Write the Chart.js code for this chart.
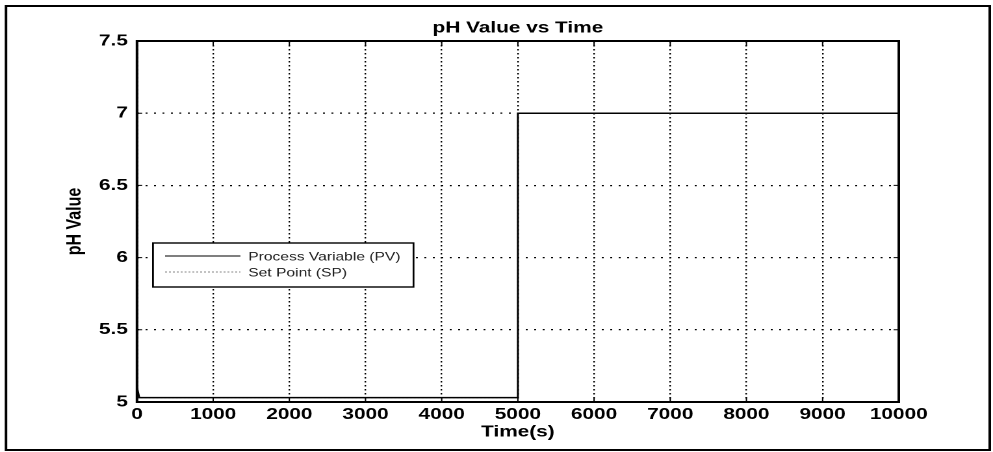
<!DOCTYPE html>
<html>
<head>
<meta charset="utf-8">
<title>pH Value vs Time</title>
<script src="https://cdn.jsdelivr.net/npm/chart.js@4"></script>
<style>
    html, body { margin: 0; padding: 0; background: #fff; }
    /* the plot is drawn narrow and stretched sideways to the full page width */
    #wrap {
        width: 764px;
        height: 452px;
        transform: scaleX(1.29974);
        transform-origin: 0 0;
    }
</style>
</head>
<body>
<div id="wrap">
    <canvas id="phChart" width="764" height="452"></canvas>
</div>
<script>
const chartTitle = 'pH Value vs Time';
const xTickLabels = ['0', '1000', '2000', '3000', '4000', '5000', '6000', '7000', '8000', '9000', '10000'];
const yTickLabels = ['5', '5.5', '6', '6.5', '7', '7.5'];

// Process Variable (PV)
const pvTime = [0, 30, 5000, 5000, 10000];
const pvValue = [5.1, 5.03, 5.03, 7, 7];

// Set Point (SP)
const spTime = [0, 5000, 5000, 10000];
const spValue = [5.03, 5.03, 7, 7];

const fontFamily = "'Liberation Sans', Arial, sans-serif";

function toPoints(xs, ys) {
    return xs.map(function(x, i) { return { x: x, y: ys[i] }; });
}

// box around the axes, inward tick marks, title, outer frame and legend
const framePlugin = {
    id: 'matlabFrame',
    afterDraw: function(chart) {
        const ctx = chart.ctx;
        const a = chart.chartArea;
        const xs = chart.scales.x;
        const ys = chart.scales.y;
        ctx.save();

        ctx.strokeStyle = '#000';
        ctx.lineWidth = 1;
        ctx.beginPath();
        xs.ticks.forEach(function(t) {
            const px = xs.getPixelForValue(t.value);
            ctx.moveTo(px, a.bottom); ctx.lineTo(px, a.bottom - 5);
            ctx.moveTo(px, a.top); ctx.lineTo(px, a.top + 5);
        });
        ys.ticks.forEach(function(t) {
            const py = ys.getPixelForValue(t.value);
            ctx.moveTo(a.left, py); ctx.lineTo(a.left + 4, py);
            ctx.moveTo(a.right, py); ctx.lineTo(a.right - 4, py);
        });
        ctx.stroke();

        ctx.lineWidth = 2;
        ctx.strokeRect(a.left, a.top, a.right - a.left, a.bottom - a.top);
        ctx.strokeRect(4.6, 6, 756.9, 444);

        ctx.fillStyle = '#000';
        ctx.font = 'bold 16px ' + fontFamily;
        ctx.textAlign = 'center';
        ctx.textBaseline = 'middle';
        ctx.fillText(chartTitle, (a.left + a.right) / 2, 28);

        // legend
        ctx.font = '12px ' + fontFamily;
        const sets = chart.data.datasets;
        const textX = 191;
        let maxW = 0;
        sets.forEach(function(ds) { maxW = Math.max(maxW, ctx.measureText(ds.label).width); });
        const boxL = 117.7, boxT = 243, boxB = 287;
        const boxR = textX + maxW + 10;
        ctx.fillStyle = '#fff';
        ctx.fillRect(boxL, boxT, boxR - boxL, boxB - boxT);
        ctx.lineWidth = 1.4;
        ctx.strokeStyle = '#000';
        ctx.strokeRect(boxL, boxT, boxR - boxL, boxB - boxT);
        sets.forEach(function(ds, i) {
            const y = 256 + i * 16;
            ctx.strokeStyle = ds.borderColor;
            ctx.lineWidth = 1;
            ctx.setLineDash(ds.borderDash || []);
            ctx.beginPath();
            ctx.moveTo(127, y);
            ctx.lineTo(185, y);
            ctx.stroke();
            ctx.setLineDash([]);
            ctx.fillStyle = '#222';
            ctx.textAlign = 'left';
            ctx.fillText(ds.label, textX, y + 1);
        });
        ctx.restore();
    }
};

const ctx = document.getElementById('phChart');

const phChart = new Chart(ctx, {
    type: 'line',
    data: {
        datasets: [{
            label: 'Process Variable (PV)',
            data: toPoints(pvTime, pvValue),
            borderColor: '#000',
            borderWidth: 1.5,
            pointRadius: 0,
            tension: 0
        }, {
            label: 'Set Point (SP)',
            data: toPoints(spTime, spValue),
            borderColor: '#888',
            borderWidth: 1,
            borderDash: [1.5, 1.5],
            pointRadius: 0,
            tension: 0
        }]
    },
    options: {
        responsive: false,
        animation: false,
        devicePixelRatio: 2,
        layout: {
            padding: { left: 0, right: 72.5, top: 41, bottom: 0 }
        },
        plugins: {
            legend: { display: false },
            tooltip: { enabled: false }
        },
        scales: {
            x: {
                type: 'linear',
                min: 0,
                max: 10000,
                afterFit: function(scale) { scale.height = 50; },
                ticks: {
                    stepSize: 1000,
                    color: '#000',
                    padding: 3,
                    maxRotation: 0,
                    font: { family: fontFamily, size: 16, weight: 'bold' },
                    callback: function(value, index) { return xTickLabels[index]; }
                },
                grid: { color: '#000', lineWidth: 1.2, drawTicks: false },
                border: { display: false, dash: [1.5, 2.5] },
                title: {
                    display: true,
                    text: 'Time(s)',
                    color: '#000',
                    padding: { top: 0, bottom: 10.4 },
                    font: { family: fontFamily, size: 16, weight: 'bold' }
                }
            },
            y: {
                min: 5,
                max: 7.5,
                afterFit: function(scale) { scale.width = 105.4; },
                ticks: {
                    stepSize: 0.5,
                    color: '#000',
                    padding: 7,
                    font: { family: fontFamily, size: 16, weight: 'bold' },
                    callback: function(value, index) { return yTickLabels[index]; }
                },
                grid: { color: '#000', lineWidth: 1.2, drawTicks: false },
                border: { display: false, dash: [1.5, 5] },
                title: {
                    display: true,
                    text: 'pH Value',
                    color: '#000',
                    padding: { top: 48, bottom: 0 },
                    font: { family: fontFamily, size: 16, weight: 'bold' }
                }
            }
        }
    },
    plugins: [framePlugin]
});
</script>
</body>
</html>
